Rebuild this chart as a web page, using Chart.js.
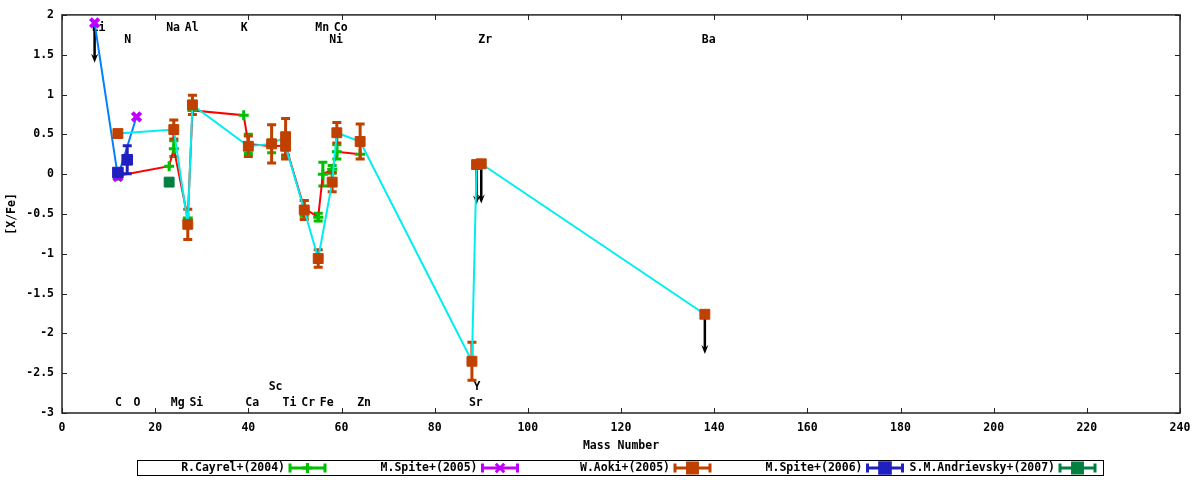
<!DOCTYPE html>
<html>
<head>
<meta charset="utf-8">
<script src="https://cdn.jsdelivr.net/npm/chart.js@4.4.1/dist/chart.umd.min.js"></script>
<style>
  body { margin: 0; background: #ffffff; }
</style>
</head>
<body>
<canvas id="abund" width="1200" height="480"></canvas>
<script>
// element names written along the top and bottom of the plot (x = mass number)
const elemNames = ['Li', 'Na', 'Al', 'K', 'Mn', 'Co', 'N', 'Ni', 'Zr', 'Ba',
                   'C', 'O', 'Mg', 'Si', 'Ca', 'Ti', 'Cr', 'Fe', 'Zn', 'Sr', 'Sc', 'Y'];
const elemMass  = [7, 23, 27, 39, 55, 59, 14, 58, 90, 138,
                   12, 16, 24, 28, 40, 48, 52, 56, 64, 88, 45, 89];
const elemRow   = [0, 0, 0, 0, 0, 0, 1, 1, 1, 1,
                   3, 3, 3, 3, 3, 3, 3, 3, 3, 3, 2, 2];

// R.Cayrel+(2004)
const cayrelMass = [12, 23, 24, 27, 28, 39, 40, 45, 48, 52, 55, 56, 58, 59, 64];
const cayrelXFe  = [-0.02, 0.10, 0.32, -0.55, 0.80, 0.74, 0.38, 0.35, 0.36, -0.43, -0.54, 0.00, 0.06, 0.28, 0.25];
const cayrelErr  = [0, 0, 0.10, 0, 0, 0, 0.12, 0.08, 0.15, 0.10, 0.05, 0.15, 0.05, 0.09, 0];

// M.Spite+(2005)
const spite05Mass = [7, 12, 16];
const spite05XFe  = [1.90, -0.03, 0.72];
const spite05Err  = [0, 0, 0];

// W.Aoki+(2005)
const aokiMass = [12, 24, 27, 28, 40, 45, 48, 48, 52, 55, 58, 59, 64, 88, 89, 90, 138];
const aokiXFe  = [0.51, 0.56, -0.63, 0.87, 0.35, 0.38, 0.47, 0.35, -0.45, -1.06, -0.10, 0.52, 0.41, -2.35, 0.12, 0.13, -1.76];
const aokiErr  = [0, 0.12, 0.19, 0.12, 0.13, 0.24, 0.23, 0.16, 0.12, 0.11, 0.12, 0.13, 0.22, 0.24, 0, 0, 0];

// M.Spite+(2006)
const spite06Mass = [12, 14];
const spite06XFe  = [0.02, 0.18];
const spite06Err  = [0, 0.175];

// S.M.Andrievsky+(2007)
const andrMass = [23];
const andrXFe  = [-0.10];
const andrErr  = [0];

// upper limits (arrows pointing down)
const limitMass = [7, 89, 90, 138];
const limitXFe  = [1.90, 0.12, 0.13, -1.76];

const xTicksStep = 20;
const yTicksStep = 0.5;

const FONT = 'bold 11.5px "DejaVu Sans Mono"';
const fontOpt = { family: '"DejaVu Sans Mono"', size: 11.5, weight: 'bold' };

function pts(ms, vs) {
  return ms.map((m, i) => ({ x: m, y: vs[i] }));
}

const gnuplotBits = {
  id: 'gnuplotBits',
  beforeDatasetsDraw(chart) {
    const { ctx, scales: { x, y } } = chart;
    const rowLevel = [1.84, 1.69, -2.67, -2.87];
    ctx.save();
    ctx.font = FONT;
    ctx.fillStyle = '#000';
    ctx.textAlign = 'left';
    ctx.textBaseline = 'middle';
    elemNames.forEach((n, i) => {
      ctx.fillText(n, x.getPixelForValue(elemMass[i]) - 3, y.getPixelForValue(rowLevel[elemRow[i]]));
    });
    // upper limit arrows
    ctx.strokeStyle = '#000';
    ctx.fillStyle = '#000';
    ctx.lineWidth = 2.5;
    limitMass.forEach((m, i) => {
      const px = x.getPixelForValue(m);
      const y0 = y.getPixelForValue(limitXFe[i]);
      const y1 = y.getPixelForValue(limitXFe[i] - 0.5);
      ctx.beginPath();
      ctx.moveTo(px, y0);
      ctx.lineTo(px, y1 - 5);
      ctx.stroke();
      ctx.beginPath();
      ctx.moveTo(px - 3.5, y1 - 9);
      ctx.lineTo(px, y1 - 6);
      ctx.lineTo(px + 3.5, y1 - 9);
      ctx.lineTo(px, y1);
      ctx.closePath();
      ctx.fill();
    });
    ctx.restore();
  },
  beforeDatasetDraw(chart, args) {
    const ds = chart.data.datasets[args.index];
    if (!ds.errors) return;
    const { ctx, scales: { x, y } } = chart;
    ctx.save();
    ctx.strokeStyle = ds.markColor;
    ctx.lineWidth = 3;
    ds.data.forEach((p, i) => {
      const e = ds.errors[i];
      if (!e) return;
      const px = x.getPixelForValue(p.x);
      const y1 = y.getPixelForValue(p.y + e);
      const y2 = y.getPixelForValue(p.y - e);
      ctx.beginPath();
      ctx.moveTo(px, y1); ctx.lineTo(px, y2);
      ctx.moveTo(px - 4.5, y1); ctx.lineTo(px + 4.5, y1);
      ctx.moveTo(px - 4.5, y2); ctx.lineTo(px + 4.5, y2);
      ctx.stroke();
    });
    ctx.restore();
  },
  afterDraw(chart) {
    const { ctx, chartArea: a, scales: { x, y } } = chart;
    ctx.save();
    // border + inward mirrored ticks
    ctx.strokeStyle = '#222';
    ctx.lineWidth = 1.5;
    ctx.strokeRect(a.left, a.top, a.right - a.left, a.bottom - a.top);
    ctx.lineWidth = 1;
    ctx.beginPath();
    x.ticks.forEach(t => {
      const px = Math.round(x.getPixelForValue(t.value)) + 0.5;
      ctx.moveTo(px, a.bottom); ctx.lineTo(px, a.bottom - 5);
      ctx.moveTo(px, a.top); ctx.lineTo(px, a.top + 5);
    });
    y.ticks.forEach(t => {
      const py = Math.round(y.getPixelForValue(t.value)) + 0.5;
      ctx.moveTo(a.left, py); ctx.lineTo(a.left + 5, py);
      ctx.moveTo(a.right, py); ctx.lineTo(a.right - 5, py);
    });
    ctx.stroke();

    // legend box along the bottom
    const ly = 468;
    ctx.strokeStyle = '#000';
    ctx.lineWidth = 1;
    ctx.strokeRect(137.5, 460.5, 966, 15);
    ctx.font = FONT;
    ctx.fillStyle = '#000';
    ctx.textAlign = 'right';
    ctx.textBaseline = 'middle';
    chart.data.datasets.forEach((ds, i) => {
      const tx = 285 + 192.5 * i;
      ctx.fillText(ds.label, tx, ly + 0.5);
      const s1 = tx + 5, s2 = tx + 40;
      ctx.strokeStyle = ds.markColor;
      ctx.lineWidth = 3;
      ctx.beginPath();
      ctx.moveTo(s1, ly); ctx.lineTo(s2, ly);
      ctx.moveTo(s1, ly - 4.5); ctx.lineTo(s1, ly + 4.5);
      ctx.moveTo(s2, ly - 4.5); ctx.lineTo(s2, ly + 4.5);
      ctx.stroke();
      ctx.fillStyle = ds.markColor;
      Chart.helpers.drawPoint(ctx, {
        pointStyle: ds.pointStyle, radius: ds.pointRadius, rotation: 0, borderWidth: ds.pointBorderWidth
      }, (s1 + s2) / 2, ly);
      ctx.fillStyle = '#000';
    });
    ctx.restore();
  }
};

Chart.defaults.color = '#000';
Chart.defaults.font = fontOpt;

new Chart(document.getElementById('abund'), {
  type: 'scatter',
  data: {
    datasets: [
      {
        label: 'R.Cayrel+(2004)', data: pts(cayrelMass, cayrelXFe), errors: cayrelErr,
        markColor: '#00c000', showLine: true, borderColor: '#ff0000', borderWidth: 2,
        pointStyle: 'cross', pointRadius: 5, pointBorderWidth: 3,
        pointBorderColor: '#00c000', pointBackgroundColor: '#00c000', order: 5
      },
      {
        label: 'M.Spite+(2005)', data: pts(spite05Mass, spite05XFe), errors: spite05Err,
        markColor: '#c000ff', showLine: true, borderColor: '#0080ff', borderWidth: 2,
        pointStyle: 'crossRot', pointRadius: 6, pointBorderWidth: 4,
        pointBorderColor: '#c000ff', pointBackgroundColor: '#c000ff', order: 4
      },
      {
        label: 'W.Aoki+(2005)', data: pts(aokiMass, aokiXFe), errors: aokiErr,
        markColor: '#c04000', showLine: true, borderColor: '#00eeee', borderWidth: 2,
        pointStyle: 'rect', pointRadius: 7, pointBorderWidth: 1,
        pointBorderColor: '#c04000', pointBackgroundColor: '#c04000', order: 3
      },
      {
        label: 'M.Spite+(2006)', data: pts(spite06Mass, spite06XFe), errors: spite06Err,
        markColor: '#2020c0', showLine: false,
        pointStyle: 'rect', pointRadius: 7.5, pointBorderWidth: 1,
        pointBorderColor: '#2020c0', pointBackgroundColor: '#2020c0', order: 2
      },
      {
        label: 'S.M.Andrievsky+(2007)', data: pts(andrMass, andrXFe), errors: andrErr,
        markColor: '#008040', showLine: false,
        pointStyle: 'rect', pointRadius: 7, pointBorderWidth: 1,
        pointBorderColor: '#008040', pointBackgroundColor: '#008040', order: 1
      }
    ]
  },
  options: {
    responsive: false,
    animation: false,
    events: [],
    layout: { padding: { left: 0, right: 20, top: 13, bottom: 0 } },
    plugins: { legend: { display: false }, tooltip: { enabled: false } },
    scales: {
      x: {
        type: 'linear', min: 0, max: 240,
        ticks: { stepSize: xTicksStep, padding: 8, font: fontOpt, maxRotation: 0 },
        grid: { display: false, drawTicks: false },
        border: { display: false },
        title: { display: true, text: 'Mass Number', font: fontOpt, padding: { top: 0, bottom: 27 } },
        afterFit(scale) { scale.height = 67; }
      },
      y: {
        min: -3, max: 2,
        ticks: {
          stepSize: yTicksStep, padding: 8, font: fontOpt,
          callback: v => String(Math.round(v * 10) / 10)
        },
        grid: { display: false, drawTicks: false },
        border: { display: false },
        title: { display: true, text: '[X/Fe]', font: fontOpt, padding: { top: 5, bottom: 0 } },
        afterFit(scale) { scale.width = 62; }
      }
    }
  },
  plugins: [gnuplotBits]
});
</script>
</body>
</html>
